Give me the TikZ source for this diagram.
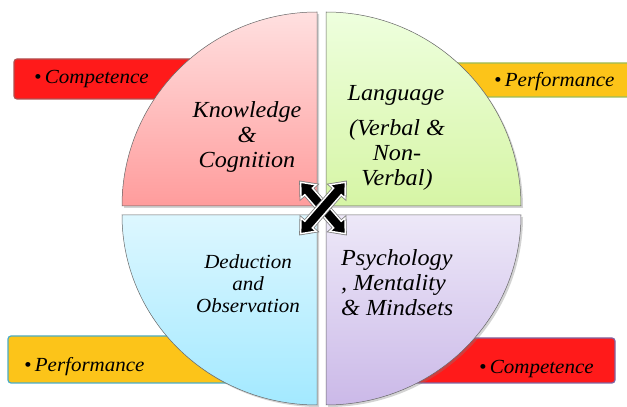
\documentclass[tikz,border=0pt]{standalone}
\usepackage{fontspec}
\setmainfont{Liberation Serif}[FakeStretch=1.05]
\usetikzlibrary{shadows}
\definecolor{bred}{HTML}{FF1A1A}
\definecolor{byel}{HTML}{FCC419}
\definecolor{gbord}{HTML}{9BBB59}
\definecolor{bbord}{HTML}{4BACC6}
\definecolor{pbord}{HTML}{8064A2}
\definecolor{rbord}{HTML}{B05050}
\tikzset{
  banner/.style={rounded corners=3pt, line width=1.2pt},
  quad/.style={draw=gray!80!black, line width=0.5pt,
    drop shadow={opacity=0.35, shadow xshift=2pt, shadow yshift=-2pt}},
  btext/.style={font=\fontsize{20}{22}\selectfont\itshape, inner sep=0pt},
  qtext/.style={font=\fontsize{23}{25}\selectfont\itshape, align=center, inner sep=0pt},
  arrowshape/.style={fill=black, draw=white, line width=1.4pt, line join=miter}
}
\begin{document}
\begin{tikzpicture}[x=1pt,y=1pt]
\useasboundingbox (0,0) rectangle (627,407);
% banners
\draw[banner, fill=bred, draw=rbord] (14,308) rectangle (260,348);
\draw[banner, fill=byel, draw=gbord] (400,310) rectangle (640,344);
\draw[banner, fill=byel, draw=bbord] (8,24) rectangle (260,71);
\draw[banner, fill=bred, draw=pbord] (400,24) rectangle (615,69);
\node[btext, anchor=west] (c1) at (34,328) {\textbullet\,Competence};
\node[btext, anchor=west] (p1) at (494,325) {\textbullet\,Performance};
\node[btext, anchor=west] (p2) at (24,40) {\textbullet\,Performance};
\node[btext, anchor=west] (c2) at (479,38) {\textbullet\,Competence};
% quadrants
\path[quad, top color={rgb,255:red,255;green,224;blue,224}, bottom color={rgb,255:red,255;green,156;blue,156}]
  (317,201) -- ++(-195,0) arc[start angle=180, end angle=90, x radius=195, y radius=194] -- cycle;
\path[quad, top color={rgb,255:red,238;green,255;blue,222}, bottom color={rgb,255:red,214;green,245;blue,165}]
  (326,201) -- ++(195,0) arc[start angle=0, end angle=90, x radius=195, y radius=194] -- cycle;
\path[quad, top color={rgb,255:red,221;green,247;blue,255}, bottom color={rgb,255:red,163;green,233;blue,255}]
  (317,192) -- ++(-195,0) arc[start angle=180, end angle=270, x radius=195, y radius=190] -- cycle;
\path[quad, top color={rgb,255:red,237;green,232;blue,248}, bottom color={rgb,255:red,203;green,185;blue,232}]
  (326,192) -- ++(195,0) arc[start angle=0, end angle=-90, x radius=195, y radius=190] -- cycle;
% texts
\node[qtext] (k) at (247,270) {Knowledge\\\&\\Cognition};
\node[qtext] (l) at (396,312) {Language};
\node[qtext] (v) at (397,252) {(Verbal \&\\Non-\\Verbal)};
\node[qtext, font=\fontsize{20}{22}\selectfont\itshape] (d) at (248,123) {Deduction\\and\\Observation};
\node[qtext, align=left, anchor=west] (p) at (341,124) {Psychology\\, Mentality\\\& Mindsets};
% center X
\foreach \a in {-49,49}{
  \begin{scope}[shift={(323,199)}, rotate=\a]
    \draw[draw=gray, line width=3pt, line join=miter] (-34,0) -- (-22,10) -- (-22,5) -- (22,5) -- (22,10) -- (34,0) -- (22,-10) -- (22,-5) -- (-22,-5) -- (-22,-10) -- cycle;
    \draw[arrowshape] (-34,0) -- (-22,10) -- (-22,5) -- (22,5) -- (22,10) -- (34,0) -- (22,-10) -- (22,-5) -- (-22,-5) -- (-22,-10) -- cycle;
  \end{scope}
}
\end{tikzpicture}
\end{document}
